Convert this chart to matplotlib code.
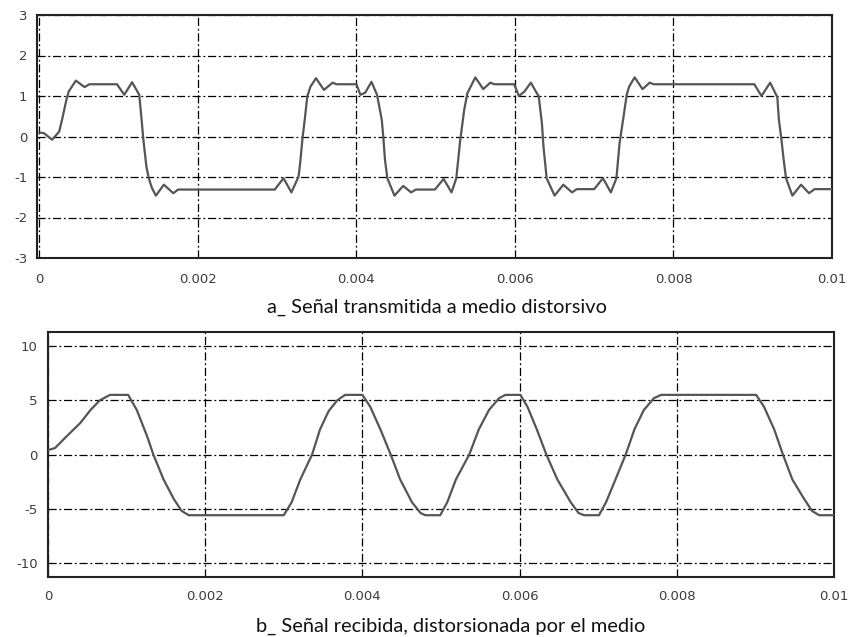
import matplotlib
matplotlib.use("Agg")
import matplotlib.pyplot as plt

# ---- data: transmitted signal (top) ----
t_tx = [0.0, 0.00006, 0.00016, 0.00025, 0.00029, 0.00034, 0.00037, 0.00041, 0.00046,
        0.00057, 0.00063, 0.00098, 0.00107, 0.00117, 0.00126, 0.00129, 0.00131, 0.00135,
        0.00138, 0.00142, 0.00147, 0.00157, 0.00169, 0.00175, 0.00297, 0.00308, 0.00318,
        0.00327, 0.00329, 0.00332, 0.00335, 0.00338, 0.00342, 0.00349, 0.00359, 0.00370,
        0.00375, 0.00400, 0.00405, 0.00411, 0.00419, 0.00426, 0.00432, 0.00434, 0.00436,
        0.00439, 0.00448, 0.00459, 0.00469, 0.00475, 0.00499, 0.00510, 0.00520, 0.00526,
        0.00531, 0.00536, 0.00540, 0.00550, 0.00560, 0.00569, 0.00574, 0.00599, 0.00605,
        0.00612, 0.00620, 0.00630, 0.00634, 0.00636, 0.00640, 0.00650, 0.00661, 0.00672,
        0.00678, 0.00700, 0.00711, 0.00721, 0.00728, 0.00732, 0.00737, 0.00741, 0.00744,
        0.00751, 0.00761, 0.00770, 0.00775, 0.00902, 0.00911, 0.00922, 0.00931, 0.00933,
        0.00936, 0.00939, 0.00942, 0.00950, 0.00961, 0.00971, 0.00978, 0.01000]
y_tx = [0.10, 0.08, -0.08, 0.12, 0.45, 0.90, 1.11, 1.23, 1.38,
        1.22, 1.29, 1.29, 1.03, 1.34, 1.03, 0.41, -0.04, -0.74,
        -1.03, -1.27, -1.46, -1.19, -1.40, -1.31, -1.31, -1.03, -1.38,
        -0.99, -0.66, -0.04, 0.45, 0.99, 1.23, 1.44, 1.15, 1.33,
        1.29, 1.29, 1.03, 1.08, 1.35, 1.03, 0.41, -0.04, -0.57,
        -1.03, -1.46, -1.22, -1.38, -1.31, -1.31, -1.05, -1.38, -1.03,
        -0.08, 0.66, 1.07, 1.46, 1.17, 1.33, 1.29, 1.29, 1.00,
        1.11, 1.33, 0.99, 0.33, -0.25, -1.03, -1.46, -1.19, -1.38,
        -1.30, -1.30, -1.03, -1.38, -1.03, -0.16, 0.49, 1.03, 1.23,
        1.46, 1.17, 1.33, 1.29, 1.29, 1.00, 1.33, 0.97, 0.41,
        -0.04, -0.57, -1.03, -1.46, -1.19, -1.40, -1.30, -1.30]

# ---- data: received signal (bottom) ----
t_rx = [0.0, 0.00009, 0.00024, 0.00041, 0.00054, 0.00066, 0.00079, 0.00102, 0.00113,
        0.00126, 0.00134, 0.00147, 0.00160, 0.00170, 0.00179, 0.00300, 0.00310, 0.00321,
        0.00336, 0.00346, 0.00357, 0.00368, 0.00378, 0.00400, 0.00410, 0.00423, 0.00436,
        0.00448, 0.00463, 0.00474, 0.00480, 0.00499, 0.00508, 0.00519, 0.00536, 0.00548,
        0.00561, 0.00574, 0.00582, 0.00601, 0.00610, 0.00622, 0.00634, 0.00648, 0.00665,
        0.00675, 0.00682, 0.00701, 0.00710, 0.00722, 0.00735, 0.00746, 0.00758, 0.00771,
        0.00780, 0.00901, 0.00911, 0.00924, 0.00935, 0.00947, 0.00962, 0.00972, 0.00981,
        0.01000]
y_rx = [0.4, 0.6, 1.7, 2.9, 4.1, 5.0, 5.5, 5.5, 4.1,
        1.7, 0.0, -2.3, -4.1, -5.2, -5.6, -5.6, -4.4, -2.3,
        0.0, 2.3, 4.0, 5.0, 5.5, 5.5, 4.4, 2.3, 0.0,
        -2.3, -4.4, -5.4, -5.6, -5.6, -4.4, -2.3, 0.0, 2.3,
        4.1, 5.2, 5.5, 5.5, 4.4, 2.3, 0.0, -2.3, -4.4,
        -5.4, -5.6, -5.6, -4.4, -2.3, 0.0, 2.3, 4.1, 5.2,
        5.5, 5.5, 4.4, 2.3, 0.0, -2.3, -4.1, -5.2, -5.6,
        -5.6]

xticks = [0, 0.002, 0.004, 0.006, 0.008, 0.01]
xtick_labels = ["0", "0.002", "0.004", "0.006", "0.008", "0.01"]
yticks_tx = [-3, -2, -1, 0, 1, 2, 3]
yticks_rx = [-10, -5, 0, 5, 10]
caption_a = "a_ Señal transmitida a medio distorsivo"
caption_b = "b_ Señal recibida, distorsionada por el medio"

W, H = 850, 637
fig = plt.figure(figsize=(W / 100, H / 100), dpi=100)

grid_ls = (0, (6.5, 2.2, 1.5, 2.2))


def style(ax, yticks, xpad, ypad):
    ax.set_xticks(xticks)
    ax.set_xticklabels(xtick_labels)
    ax.set_yticks(yticks)
    ax.set_yticklabels([str(v) for v in yticks])
    ax.tick_params(length=0, labelsize=9.5, labelcolor="#3c3c3c")
    ax.tick_params(axis="x", pad=xpad)
    ax.tick_params(axis="y", pad=ypad)
    ax.grid(True, color="black", linestyle=grid_ls, linewidth=0.9)
    for s in ax.spines.values():
        s.set_linewidth(1.5)
        s.set_color("#222222")
    ax.set_axisbelow(True)


ax1 = fig.add_axes([37 / W, 1 - 258 / H, (832 - 37) / W, 243 / H])
ax1.plot(t_tx, y_tx, color="#555555", lw=1.6, zorder=3)
ax1.set_xlim(-0.00003, 0.01)
ax1.set_ylim(-3, 3)
style(ax1, yticks_tx, 10.5, 7)

ax2 = fig.add_axes([48 / W, 1 - 577 / H, (834 - 48) / W, (577 - 332) / H])
ax2.plot(t_rx, y_rx, color="#555555", lw=1.6, zorder=3)
ax2.set_xlim(0, 0.01)
ax2.set_ylim(-11.3, 11.3)
style(ax2, yticks_rx, 9.5, 7.5)

fam = ["Lato", "Open Sans", "DejaVu Sans"]
ta = fig.text(437 / W, 1 - 313 / H, caption_a, ha="center", va="baseline",
              fontsize=12, family=fam, color="#111111")
tb = fig.text(451 / W, 1 - 632 / H, caption_b, ha="center", va="baseline",
              fontsize=12, family=fam, color="#111111")
fig.canvas.draw()
r = fig.canvas.get_renderer()
wa = ta.get_window_extent(r).width
ta.set_fontsize(12 * 340 / wa)
wb = tb.get_window_extent(r).width
tb.set_fontsize(12 * 388 / wb)

fig.savefig("out.png", dpi=100, facecolor="white")
